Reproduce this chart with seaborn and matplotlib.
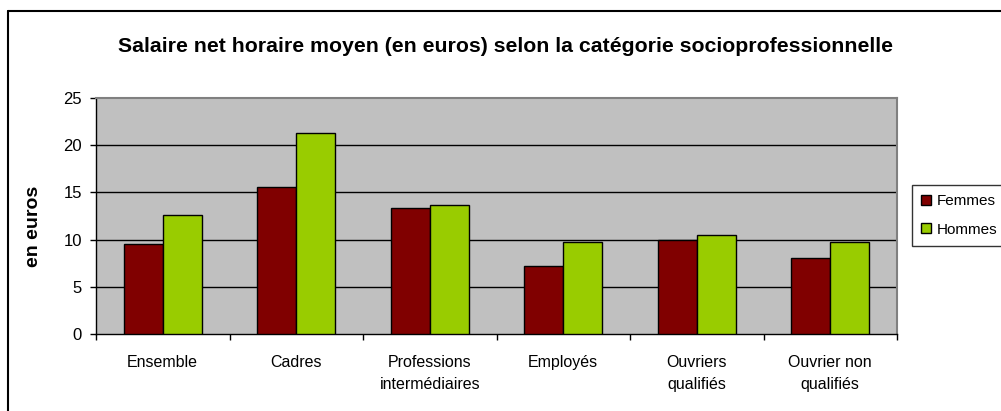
import matplotlib
matplotlib.use("Agg")
import matplotlib.pyplot as plt
from matplotlib.patches import Patch
from matplotlib.lines import Line2D
import numpy as np
import pandas as pd
import seaborn as sns

# Data
categories = ["Ensemble", "Cadres", "Professions\nintermédiaires", "Employés",
              "Ouvriers\nqualifiés", "Ouvrier non\nqualifiés"]
femmes = [9.5, 15.6, 13.4, 7.25, 10.0, 8.1]
hommes = [12.6, 21.3, 13.7, 9.7, 10.5, 9.7]
series = ["Femmes", "Hommes"]
colors = ["#800000", "#99CC00"]

df = pd.DataFrame({
    "categorie": categories * 2,
    "salaire": femmes + hommes,
    "sexe": [series[0]] * len(categories) + [series[1]] * len(categories),
})

sns.set_theme(style="white")
plt.rcParams["font.family"] = ["Liberation Sans", "DejaVu Sans"]
plt.rcParams.update({"text.color": "black", "axes.labelcolor": "black",
                     "xtick.color": "black", "ytick.color": "black"})

W, H = 1001, 411
fig = plt.figure(figsize=(W / 100, H / 100), dpi=100)
ax = fig.add_axes([96 / W, 1 - 334 / H, (897 - 96) / W, (334 - 98) / H])
ax.set_facecolor("#C0C0C0")

sns.barplot(data=df, x="categorie", y="salaire", hue="sexe", order=categories,
            hue_order=series, palette=colors, width=0.585, edgecolor="black",
            linewidth=1.0, saturation=1, ax=ax, legend=False, zorder=3)

# Axis ranges and grid
ax.set_ylim(0, 25)
ax.set_xlim(-0.5, len(categories) - 0.5)
ax.set_yticks([0, 5, 10, 15, 20, 25])
for v in [5, 10, 15, 20]:
    ax.axhline(v, color="black", linewidth=1.0, zorder=1)

# Spines
for side in ["top", "right"]:
    ax.spines[side].set_color("#808080")
    ax.spines[side].set_linewidth(1.5)
for side in ["left", "bottom"]:
    ax.spines[side].set_color("black")
    ax.spines[side].set_linewidth(1.0)

# Ticks: y outward, x boundaries as minor ticks
ax.tick_params(axis="y", direction="out", length=4, width=1, color="black",
               labelsize=12, pad=6, left=True)
ax.set_xticks(np.arange(len(categories)))
ax.set_xticklabels(categories, fontsize=11.5, linespacing=1.6)
ax.set_xticks(np.arange(-0.5, len(categories)), minor=True)
ax.tick_params(axis="x", which="major", length=0, pad=15)
ax.tick_params(axis="x", which="minor", direction="out", length=4, width=1,
               color="black", bottom=True)
for lab in ax.get_xticklabels():
    lab.set_verticalalignment("top")

ax.set_xlabel("")
ax.set_ylabel("en euros", fontsize=14, fontweight="bold")
ax.yaxis.set_label_coords(-0.067, 0.457)

# Title
fig.text(505 / W, 1 - 47 / H,
         "Salaire net horaire moyen (en euros) selon la catégorie socioprofessionnelle",
         ha="center", va="center", fontsize=15.3, fontweight="bold")

# Legend
handles = [Patch(facecolor=c, edgecolor="black", linewidth=1.0) for c in colors]
leg = fig.legend(handles, series, loc="center left",
                 bbox_to_anchor=(912 / W, 1 - 215.5 / H), frameon=True,
                 fontsize=11, handlelength=0.65, handleheight=0.65,
                 handletextpad=0.4, labelspacing=0.95, borderpad=0.6,
                 borderaxespad=0, fancybox=False)
leg.get_frame().set_edgecolor("black")
leg.get_frame().set_linewidth(1.0)

# Outer chart frame
fig.add_artist(Line2D([8 / W, 8 / W], [0, 1 - 11 / H], transform=fig.transFigure,
                      color="black", linewidth=1.5))
fig.add_artist(Line2D([8 / W, 1], [1 - 11 / H, 1 - 11 / H], transform=fig.transFigure,
                      color="black", linewidth=1.5))

fig.savefig("out.png", dpi=100)
